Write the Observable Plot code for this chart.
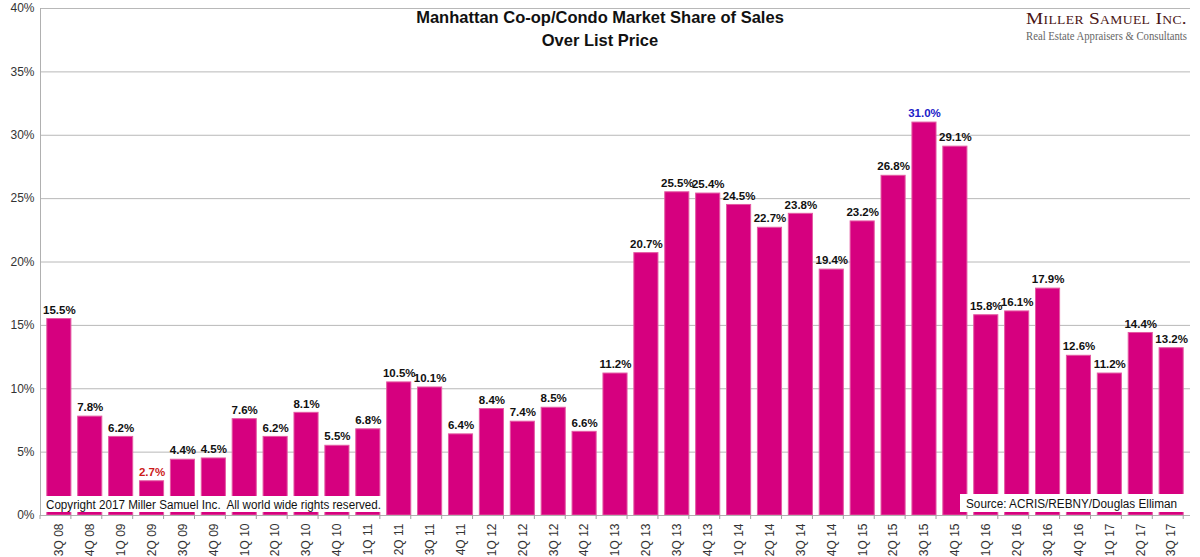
<!DOCTYPE html>
<html>
<head>
<meta charset="utf-8">
<script src="https://cdn.jsdelivr.net/npm/d3@7"></script>
<script src="https://cdn.jsdelivr.net/npm/@observablehq/plot@0.6"></script>
<style>
  html, body { margin: 0; padding: 0; background: #fff; }
  #chart svg { display: block; }
</style>
</head>
<body>
<div id="chart"></div>
<script>
const quarters = ["3Q 08","4Q 08","1Q 09","2Q 09","3Q 09","4Q 09","1Q 10","2Q 10","3Q 10","4Q 10","1Q 11","2Q 11","3Q 11","4Q 11","1Q 12","2Q 12","3Q 12","4Q 12","1Q 13","2Q 13","3Q 13","4Q 13","1Q 14","2Q 14","3Q 14","4Q 14","1Q 15","2Q 15","3Q 15","4Q 15","1Q 16","2Q 16","3Q 16","4Q 16","1Q 17","2Q 17","3Q 17"];
const shareOverList = [15.5,7.8,6.2,2.7,4.4,4.5,7.6,6.2,8.1,5.5,6.8,10.5,10.1,6.4,8.4,7.4,8.5,6.6,11.2,20.7,25.5,25.4,24.5,22.7,23.8,19.4,23.2,26.8,31.0,29.1,15.8,16.1,17.9,12.6,11.2,14.4,13.2];
const yTicks = [0,5,10,15,20,25,30,35,40];

const data = quarters.map((q, i) => ({q, v: shareOverList[i]}));
const vMin = d3.min(shareOverList), vMax = d3.max(shareOverList);
const labelColor = d => d.v === vMin ? "#cc1a1a" : d.v === vMax ? "#2020c8" : "#111";
const font = "'Liberation Sans', Arial, sans-serif";

const chart = Plot.plot({
  width: 1200,
  height: 557,
  marginLeft: 40,
  marginRight: 10,
  marginTop: 8,
  marginBottom: 42,
  style: {fontFamily: font, background: "#fff"},
  x: {domain: quarters, padding: 0.22, label: null},
  y: {domain: [0, 40], label: null},
  marks: [
    Plot.gridY(yTicks, {stroke: "#b8b8b8", strokeOpacity: 1}),
    Plot.barY(data, {x: "q", y: "v", fill: "#d6007f", stroke: "#e45aa3", strokeWidth: 1}),
    Plot.text(data, {x: "q", y: "v", text: d => d.v.toFixed(1) + "%", dy: -9, fontWeight: "bold", fontSize: 11.5, fill: labelColor}),
    Plot.axisY(yTicks, {tickSize: 0, tickPadding: 6, tickFormat: d => d + "%", fontSize: 12, fill: "#333", label: null}),
    Plot.axisX({tickSize: 0, tickRotate: -90, tickPadding: 8, fontSize: 12, fill: "#333", label: null}),
    Plot.frame({anchor: "left", stroke: "#b0b0b0"}),
    Plot.ruleY([0], {stroke: "#b0b0b0"})
  ]
});

document.getElementById("chart").appendChild(chart);

// annotations
const svg = d3.select(chart);
const xs = chart.scale("x");
const step = xs.step;
const x0 = 40;
const g = svg.append("g").attr("text-anchor", "start");
for (let i = 0; i <= quarters.length; i++) {
  const xx = x0 + i * step;
  g.append("line").attr("x1", xx).attr("x2", xx).attr("y1", 515).attr("y2", 519).attr("stroke", "#a0a0a0");
}
// title
const title = g.append("text").attr("text-anchor", "middle").attr("font-family", font)
  .attr("font-weight", "bold").attr("font-size", 16.5).attr("fill", "#111");
title.append("tspan").attr("x", 600).attr("y", 23).text("Manhattan Co-op/Condo Market Share of Sales");
title.append("tspan").attr("x", 600).attr("y", 46).text("Over List Price");
// logo
g.append("text").attr("x", 1187).attr("y", 24).attr("text-anchor", "end")
  .attr("font-family", "'Liberation Serif', 'Times New Roman', serif").attr("font-size", 17)
  .attr("font-variant", "small-caps").attr("fill", "#4a1414").attr("letter-spacing", 0.3)
  .attr("textLength", 161).attr("lengthAdjust", "spacingAndGlyphs")
  .text("Miller Samuel Inc.");
g.append("text").attr("x", 1187).attr("y", 40).attr("text-anchor", "end")
  .attr("font-family", "'Liberation Serif', 'Times New Roman', serif").attr("font-size", 11.5)
  .attr("fill", "#666").attr("textLength", 161).attr("lengthAdjust", "spacingAndGlyphs")
  .text("Real Estate Appraisers & Consultants");
// copyright box
g.append("rect").attr("x", 43).attr("y", 496).attr("width", 341).attr("height", 16).attr("fill", "#fff");
g.append("text").attr("x", 46).attr("y", 508.5).attr("text-anchor", "start").attr("font-family", font).attr("font-size", 12)
  .attr("fill", "#111").attr("textLength", 335).attr("lengthAdjust", "spacingAndGlyphs")
  .style("white-space", "pre")
  .text("Copyright 2017 Miller Samuel Inc.  All world wide rights reserved.");
// source box
g.append("rect").attr("x", 960).attr("y", 494).attr("width", 224).attr("height", 18).attr("fill", "#fff");
g.append("text").attr("x", 966).attr("y", 507.5).attr("text-anchor", "start").attr("font-family", font).attr("font-size", 12)
  .attr("fill", "#111").attr("textLength", 211).attr("lengthAdjust", "spacingAndGlyphs")
  .text("Source: ACRIS/REBNY/Douglas Elliman");
</script>
</body>
</html>
